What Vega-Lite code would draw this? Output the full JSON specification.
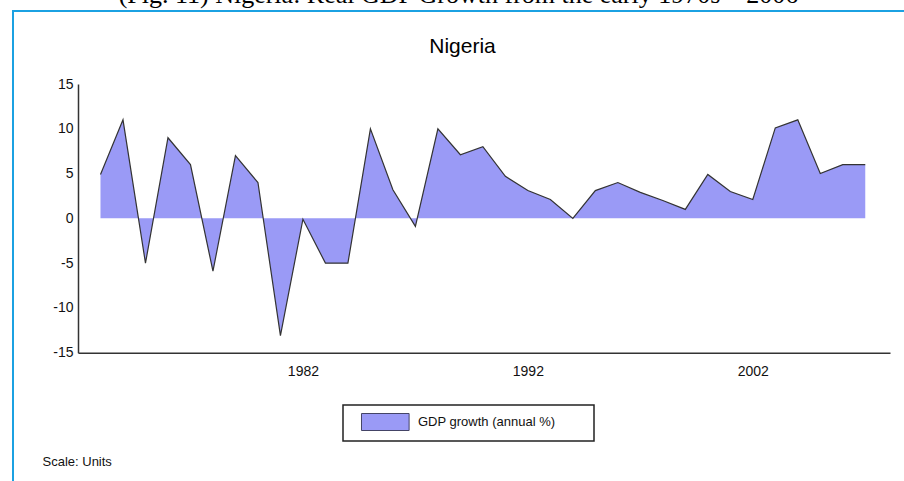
{
  "$schema": "https://vega.github.io/schema/vega-lite/v6.json",
  "autosize": {"type": "none"},
  "padding": {"left": 13, "top": 11, "right": 0, "bottom": 0},
  "width": 891,
  "height": 470,
  "background": "white",
  "title": {
    "text": "(Fig. 11) Nigeria: Real GDP Growth from the early 1970s – 2006",
    "font": "Liberation Serif",
    "fontSize": 26,
    "fontWeight": "normal",
    "color": "#000000",
    "anchor": "middle",
    "frame": "group",
    "baseline": "alphabetic",
    "offset": -18
  },
  "config": {
    "view": {"stroke": "#1ba1e2", "strokeWidth": 2, "strokeDash": [891, 1361, 470, 5000], "fill": "white"},
    "axis": {"labelFont": "Liberation Sans", "titleFont": "Liberation Sans", "labelColor": "#111111", "titleColor": "#111111", "domainColor": "#333333", "domainWidth": 1.5, "grid": false, "ticks": false, "tickSize": 0}
  },
  "data": {
    "values": [
      {"year": 1973, "growth": 4.9},
      {"year": 1974, "growth": 11.0},
      {"year": 1975, "growth": -5.0},
      {"year": 1976, "growth": 9.0},
      {"year": 1977, "growth": 6.0},
      {"year": 1978, "growth": -5.9},
      {"year": 1979, "growth": 7.0},
      {"year": 1980, "growth": 4.0},
      {"year": 1981, "growth": -13.1},
      {"year": 1982, "growth": -0.1},
      {"year": 1983, "growth": -5.0},
      {"year": 1984, "growth": -5.0},
      {"year": 1985, "growth": 10.0},
      {"year": 1986, "growth": 3.2},
      {"year": 1987, "growth": -0.9},
      {"year": 1988, "growth": 10.0},
      {"year": 1989, "growth": 7.1},
      {"year": 1990, "growth": 8.0},
      {"year": 1991, "growth": 4.7},
      {"year": 1992, "growth": 3.1},
      {"year": 1993, "growth": 2.1},
      {"year": 1994, "growth": 0.0},
      {"year": 1995, "growth": 3.1},
      {"year": 1996, "growth": 4.0},
      {"year": 1997, "growth": 2.9},
      {"year": 1998, "growth": 2.0},
      {"year": 1999, "growth": 1.0},
      {"year": 2000, "growth": 4.9},
      {"year": 2001, "growth": 3.0},
      {"year": 2002, "growth": 2.1},
      {"year": 2003, "growth": 10.1},
      {"year": 2004, "growth": 11.0},
      {"year": 2005, "growth": 5.0},
      {"year": 2006, "growth": 6.0},
      {"year": 2007, "growth": 6.0}
    ]
  },
  "encoding": {
    "x": {
      "field": "year",
      "type": "quantitative",
      "scale": {"domain": [1972, 2008.1], "range": [65, 877], "nice": false, "zero": false},
      "axis": {
        "values": [1982, 1992, 2002],
        "format": "d",
        "offset": -128.3,
        "labelFontSize": 14,
        "labelPadding": 12,
        "title": "Scale: Units",
        "titleFontSize": 13,
        "titleFontWeight": "normal",
        "titleX": 29,
        "titleY": 113,
        "titleAlign": "left",
        "titleAnchor": "start",
        "titleBaseline": "alphabetic"
      }
    },
    "y": {
      "field": "growth",
      "type": "quantitative",
      "scale": {"domain": [-15, 15], "range": [341.7, 73], "nice": false},
      "axis": {
        "values": [-15, -10, -5, 0, 5, 10, 15],
        "offset": -65,
        "labelFontSize": 14,
        "labelPadding": 5,
        "labelExpr": "replace(datum.label, '\u2212', '-')",
        "title": "Nigeria",
        "titleFontSize": 21,
        "titleFontWeight": "normal",
        "titleAngle": 0,
        "titleX": 384,
        "titleY": 41,
        "titleAlign": "center",
        "titleAnchor": "start",
        "titleBaseline": "alphabetic",
        "titleColor": "#000000"
      }
    }
  },
  "layer": [
    {
      "mark": {"type": "area", "opacity": 1},
      "encoding": {
        "fill": {
          "datum": "GDP growth (annual %)",
          "type": "nominal",
          "scale": {"range": ["#9a9af6"]},
          "legend": {
            "title": null,
            "orient": "none",
            "legendX": 330,
            "legendY": 394,
            "padding": 8,
            "strokeColor": "#222222",
            "fillColor": "white",
            "symbolType": "M-2.8,-1H2.8V1H-2.8Z",
            "symbolSize": 289,
            "symbolStrokeColor": "#444466",
            "symbolStrokeWidth": 1,
            "symbolOpacity": 1,
            "symbolOffset": 25.3,
            "labelOffset": 23.7,
            "labelFont": "Liberation Sans",
            "labelFontSize": 13,
            "labelColor": "#111111",
            "labelLimit": 168,
            "labelExpr": "datum.label + '\u2800\u2800\u2800\u2800\u2800\u2800\u2800\u2800\u2800\u2800\u2800\u2800'",
            "encode": {
              "legend": {"update": {"strokeWidth": {"value": 1.5}}},
              "labels": {"update": {"ellipsis": {"value": "\u2800"}}}
            }
          }
        }
      }
    },
    {
      "mark": {"type": "line", "color": "#333333", "strokeWidth": 1.2},
      "encoding": {}
    }
  ]
}
